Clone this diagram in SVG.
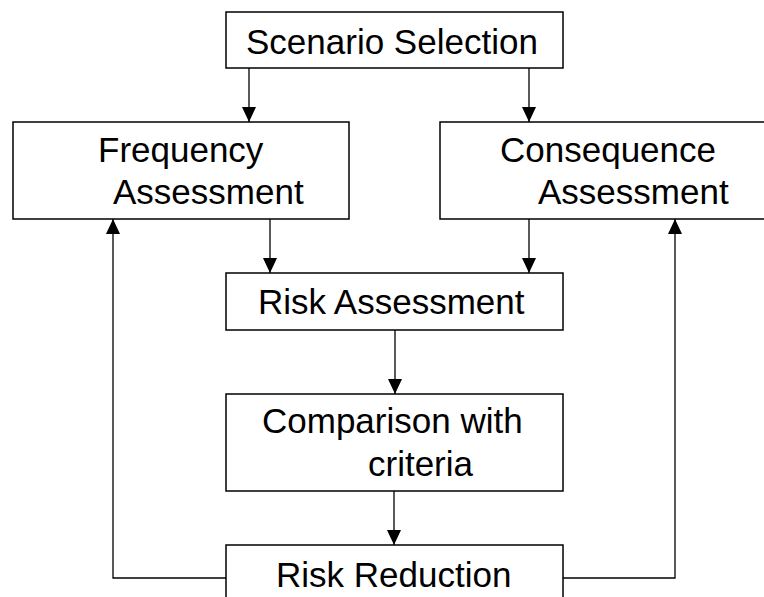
<svg xmlns="http://www.w3.org/2000/svg" width="764" height="597" viewBox="0 0 764 597">
<defs>
<style>
.box{fill:#fff;stroke:#000;stroke-width:1.5}
.t{font-family:"Liberation Sans",Arial,sans-serif;font-size:35px;fill:#000}
.c{fill:none;stroke:#000;stroke-width:1.3}
</style>
<marker id="ah" markerUnits="userSpaceOnUse" markerWidth="15" markerHeight="14" refX="15" refY="7" orient="auto">
<path d="M0,0 L15,7 L0,14 z" fill="#000"/>
</marker>
</defs>
<rect width="764" height="597" fill="#fff"/>
<g id="connectors">
<line class="c" x1="249" y1="68" x2="249" y2="122" marker-end="url(#ah)"/>
<line class="c" x1="529" y1="68" x2="529" y2="122" marker-end="url(#ah)"/>
<line class="c" x1="270" y1="219" x2="270" y2="273" marker-end="url(#ah)"/>
<line class="c" x1="529" y1="219" x2="529" y2="273" marker-end="url(#ah)"/>
<line class="c" x1="395" y1="330" x2="395" y2="394" marker-end="url(#ah)"/>
<line class="c" x1="394" y1="491" x2="394" y2="545" marker-end="url(#ah)"/>
<polyline class="c" points="226,578 113,578 113,219" marker-end="url(#ah)"/>
<polyline class="c" points="563,578 675,578 675,219" marker-end="url(#ah)"/>
</g>
<g id="scenario">
<rect class="box" x="226" y="12" width="337" height="56"/>
<text class="t" x="246" y="54">Scenario Selection</text>
</g>
<g id="frequency">
<rect class="box" x="13" y="122" width="336" height="97"/>
<text class="t" x="98" y="162">Frequency</text>
<text class="t" x="113" y="204">Assessment</text>
</g>
<g id="consequence">
<rect class="box" x="440" y="122" width="330" height="97"/>
<text class="t" x="500" y="162">Consequence</text>
<text class="t" x="538" y="204">Assessment</text>
</g>
<g id="risk">
<rect class="box" x="226" y="273" width="337" height="57"/>
<text class="t" x="258" y="314">Risk Assessment</text>
</g>
<g id="comparison">
<rect class="box" x="226" y="394" width="337" height="97"/>
<text class="t" x="262" y="433">Comparison with</text>
<text class="t" x="368" y="476">criteria</text>
</g>
<g id="reduction">
<rect class="box" x="226" y="545" width="337" height="60"/>
<text class="t" x="276" y="587">Risk Reduction</text>
</g>
</svg>
